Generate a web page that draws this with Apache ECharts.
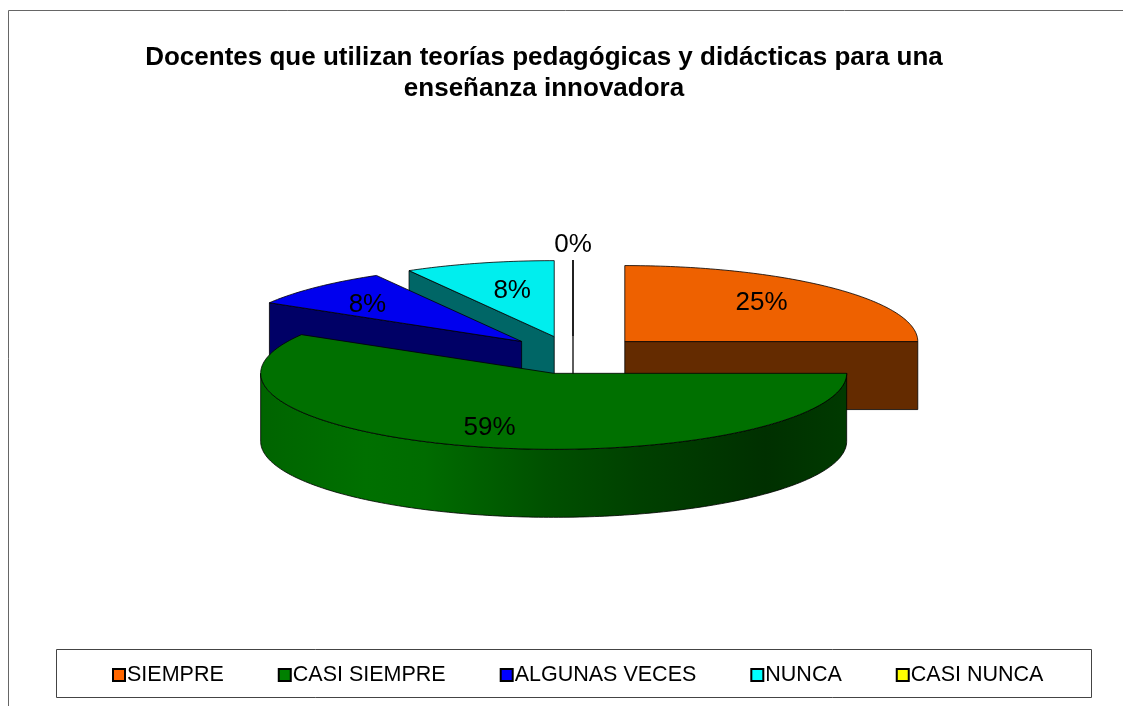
<!DOCTYPE html>
<html><head><meta charset="utf-8">
<style>html,body{margin:0;padding:0;background:#fff}#c{width:1123px;height:706px}</style>
<script src="https://cdn.jsdelivr.net/npm/echarts@6/dist/echarts.min.js"></script>
</head><body><div id="c"></div>
<script>
const TITLE = 'Docentes que utilizan teorías pedagógicas y didácticas para una\nenseñanza innovadora';
const CATEGORIES = ['SIEMPRE', 'CASI SIEMPRE', 'ALGUNAS VECES', 'NUNCA', 'CASI NUNCA'];
const VALUES = [25, 58.5, 8.25, 8.25, 0];
const LEGEND_COLORS = ['#FF6600', '#008000', '#0000FF', '#00FFFF', '#FFFF00'];
const TOP_COLORS = ['#EE6100', '#007000', '#0000EE', '#00EEEE', '#EEEE00'];
const SIDE_COLORS = ['#642B00', '#003000', '#000066', '#006666', '#666600'];
const DRAW_ORDER = [0, 4, 3, 2, 1];
const LABEL_FX = [0.66, 0.83, 0.75, 0.56, 0];
const LABEL_FY = [0.72, 0.74, 0.68, 0.62, 1.195];

const CX = 573, CY = 355, RX = 293, RY = 76, DEPTH = 68, EXPLODE = 0.25;
const TOTAL = VALUES.reduce((a, b) => a + b, 0);
const rad = d => d * Math.PI / 180;

function geometry(i) {
  let before = 0;
  for (let k = 0; k < i; k++) before += VALUES[k];
  const a = before / TOTAL * 360, b = (before + VALUES[i]) / TOTAL * 360, m = (a + b) / 2;
  return {a, b, m,
    ax: CX + RX * EXPLODE * Math.sin(rad(m)),
    ay: CY - RY * EXPLODE * Math.cos(rad(m))};
}
function rim(g, d, dy) { return [g.ax + RX * Math.sin(rad(d)), g.ay - RY * Math.cos(rad(d)) + (dy || 0)]; }
function arc(g, from, to, dy) {
  const pts = [], n = Math.max(1, Math.ceil(Math.abs(to - from) / 1));
  for (let s = 0; s <= n; s++) pts.push(rim(g, from + (to - from) * s / n, dy));
  return pts;
}
const EDGE = {stroke: '#000', lineWidth: 0.8};
function poly(points, fill) {
  return {type: 'polygon', shape: {points}, style: Object.assign({fill}, EDGE), silent: true};
}
function renderer(i) {
  return function (params, api) {
    const g = geometry(i), side = SIDE_COLORS[i], kids = [];
    const cut = d => poly([[g.ax, g.ay], rim(g, d), rim(g, d, DEPTH), [g.ax, g.ay + DEPTH]], side);
    if (g.b > 0 && g.b < 180) kids.push(cut(g.b));
    if (g.a >= 180) kids.push(cut(g.a));
    const w0 = Math.max(g.a, 90), w1 = Math.min(g.b, 270);
    if (w1 > w0) {
      const wall = arc(g, w0, w1).concat(arc(g, w1, w0, DEPTH));
      const fill = i === 1 ? new echarts.graphic.LinearGradient(0, 0, 1, 0, [
        {offset: 0, color: '#006400'}, {offset: 0.18, color: '#007000'},
        {offset: 0.28, color: '#006C00'}, {offset: 0.49, color: '#005000'},
        {offset: 0.65, color: '#004000'}, {offset: 0.86, color: '#003000'},
        {offset: 1, color: '#003A00'}]) : side;
      kids.push(poly(wall, fill));
    }
    kids.push(poly([[g.ax, g.ay]].concat(arc(g, g.a, g.b)), TOP_COLORS[i]));
    const v = api.value(0);
    kids.push({type: 'text', silent: true, style: {
      text: Math.round(v / TOTAL * 100) + '%',
      x: g.ax + LABEL_FX[i] * RX * Math.sin(rad(g.m)),
      y: g.ay - LABEL_FY[i] * RY * Math.cos(rad(g.m)),
      align: 'center', verticalAlign: 'middle',
      font: '26px "Liberation Sans", Arial, sans-serif', fill: '#000'}});
    return {type: 'group', children: kids};
  };
}

const chart = echarts.init(document.getElementById('c'));
chart.setOption({
  animation: false,
  backgroundColor: '#fff',
  title: {
    text: TITLE, left: 539, top: 37, textAlign: 'center',
    textStyle: {fontFamily: '"Liberation Sans", Arial, sans-serif', fontWeight: 'bold', fontSize: 26, lineHeight: 31, color: '#000', align: 'center'}
  },
  legend: {
    data: CATEGORIES, left: 107, top: 659, itemWidth: 12, itemHeight: 12, itemGap: 54,
    selectedMode: false, icon: 'rect',
    itemStyle: {borderColor: '#000', borderWidth: 2},
    textStyle: {fontFamily: '"Liberation Sans", Arial, sans-serif', fontSize: 21.5, color: '#000', padding: [0, 0, 0, -3]}
  },
  graphic: [
    {type: 'polyline', silent: true, shape: {points: [[8.5, 706], [8.5, 10.5], [1123, 10.5]]}, style: {stroke: '#666', lineWidth: 1, fill: null}},
    {type: 'rect', silent: true, z: -1, shape: {x: 56.5, y: 649.5, width: 1035, height: 48}, style: {stroke: '#444', lineWidth: 1, fill: '#fff'}}
  ],
  series: CATEGORIES.map((name, i) => ({
    type: 'custom', name, coordinateSystem: 'none',
    z: 2 + DRAW_ORDER.indexOf(i),
    data: [[VALUES[i]]],
    itemStyle: {color: LEGEND_COLORS[i]},
    renderItem: renderer(i),
    silent: true
  }))
});
</script></body></html>
